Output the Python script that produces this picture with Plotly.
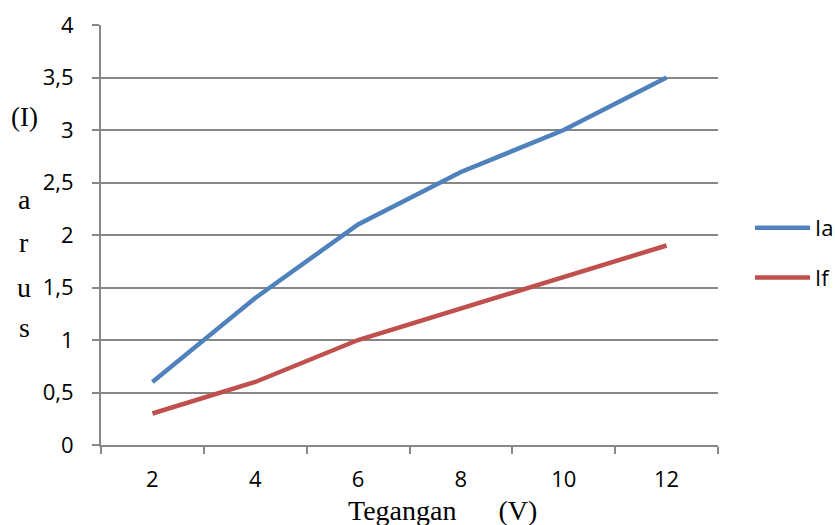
import plotly.graph_objects as go

tegangan = ["2", "4", "6", "8", "10", "12"]
arus_ia = [0.6, 1.4, 2.1, 2.6, 3.0, 3.5]
arus_if = [0.3, 0.6, 1.0, 1.3, 1.6, 1.9]
y_ticks = [0, 0.5, 1, 1.5, 2, 2.5, 3, 3.5, 4]
y_tick_text = ["0", "0,5", "1", "1,5", "2", "2,5", "3", "3,5", "4"]

tick_font = dict(family="Open Sans, Noto Sans, sans-serif", size=22, color="#000000")
serif_font = dict(family="Liberation Serif, DejaVu Serif, serif", size=28, color="#000000")
axis_grey = "#878787"

fig = go.Figure()
fig.add_trace(go.Scatter(x=tegangan, y=arus_ia, mode="lines", name="Ia", legendgroup="ia",
                         line=dict(color="#4F81BD", width=4.5)))
fig.add_trace(go.Scatter(x=tegangan, y=arus_if, mode="lines", name="If", legendgroup="if",
                         line=dict(color="#C0504D", width=4.5)))

L, R, T, B = 101, 117, 25, 80
PW, PH = 835 - L - R, 525 - T - B

fig.update_layout(
    width=835, height=525,
    margin=dict(l=L, r=R, t=T, b=B, autoexpand=False),
    paper_bgcolor="white", plot_bgcolor="white",
    showlegend=True,
    legend=dict(x=(750 - L) / PW, y=(525 - B - 253) / PH, xanchor="left", yanchor="middle",
                font=tick_font, tracegroupgap=18, itemwidth=55,
                bgcolor="rgba(0,0,0,0)"),
    xaxis=dict(type="category", range=[-0.5, 5.5], tickson="boundaries",
               ticks="outside", ticklen=7, tickcolor=axis_grey, tickwidth=2,
               showline=True, linecolor=axis_grey, linewidth=2,
               showgrid=False, tickfont=tick_font, fixedrange=True,
               ticklabelstandoff=14),
    yaxis=dict(range=[0, 4], tickvals=y_ticks, ticktext=y_tick_text,
               ticks="outside", ticklen=7, tickcolor=axis_grey, tickwidth=2,
               showline=True, linecolor=axis_grey, linewidth=2,
               showgrid=True, gridcolor=axis_grey, gridwidth=2,
               zeroline=False, tickfont=tick_font, fixedrange=True,
               ticklabelstandoff=14),
)

# horizontal axis caption
fig.add_annotation(text="Tegangan\u00a0\u00a0\u00a0\u00a0\u00a0\u00a0(V)",
                   xref="paper", yref="paper",
                   x=(442 - L) / PW, y=(525 - B - 511) / PH,
                   xanchor="center", yanchor="middle", showarrow=False,
                   borderpad=0, font=serif_font)

# stacked vertical axis caption
for txt, ypos in [("(I)", 117), ("a", 200), ("r", 243), ("u", 287), ("s", 327)]:
    fig.add_annotation(text=txt, xref="paper", yref="paper",
                       x=(24 - L) / PW, y=(525 - B - ypos) / PH,
                       xanchor="center", yanchor="middle", showarrow=False,
                       font=serif_font if txt != "(I)" else dict(serif_font, size=27))

fig.write_html("out.html")
